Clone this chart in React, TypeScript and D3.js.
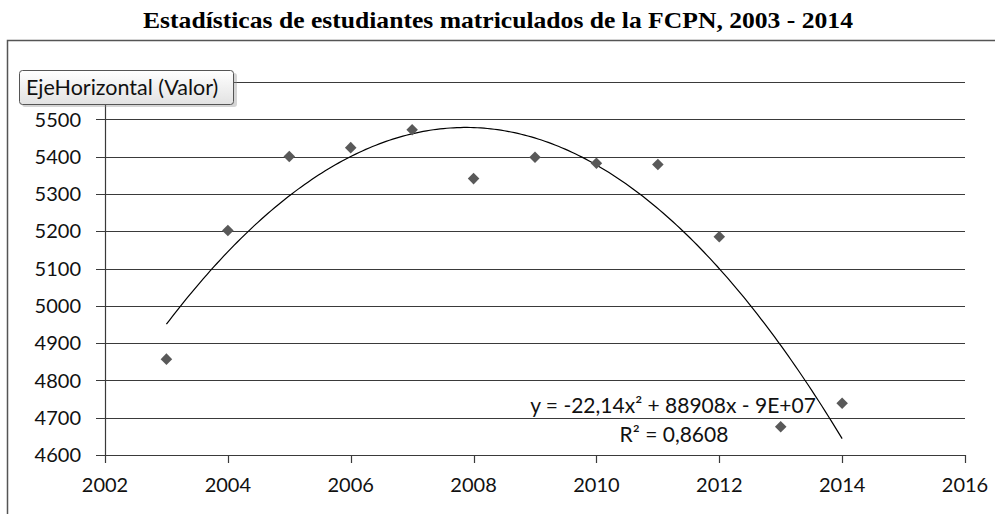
import React from "react";
import * as d3 from "d3";

const TITLE = "Estadísticas de estudiantes matriculados de la FCPN, 2003 - 2014";
const years = [2003, 2004, 2005, 2006, 2007, 2008, 2009, 2010, 2011, 2012, 2013, 2014];
const students = [4857, 5202, 5400, 5424, 5472, 5341, 5398, 5382, 5379, 5185, 4676, 4739];
const xTicks = [2002, 2004, 2006, 2008, 2010, 2012, 2014, 2016];
const yTicks = [4600, 4700, 4800, 4900, 5000, 5100, 5200, 5300, 5400, 5500, 5600];
const yTickLabels = ["4600", "4700", "4800", "4900", "5000", "5100", "5200", "5300", "5400", "5500", ""];
const equationText = "y = -22,14x² + 88908x - 9E+07";
const r2Text = "R² = 0,8608";
const tooltipText = "EjeHorizontal (Valor)";

// quadratic least-squares fit (as Excel's polynomial trendline)
function quadFit(xs: number[], ys: number[]) {
  const m = d3.mean(xs) as number;
  const u = xs.map((x) => x - m);
  const n = u.length;
  let s1 = 0, s2 = 0, s3 = 0, s4 = 0, t0 = 0, t1 = 0, t2 = 0;
  for (let i = 0; i < n; i++) {
    const a = u[i], y = ys[i];
    s1 += a; s2 += a * a; s3 += a * a * a; s4 += a * a * a * a;
    t0 += y; t1 += a * y; t2 += a * a * y;
  }
  const A = [[n, s1, s2, t0], [s1, s2, s3, t1], [s2, s3, s4, t2]];
  for (let i = 0; i < 3; i++) {
    for (let k = i + 1; k < 3; k++) {
      const f = A[k][i] / A[i][i];
      for (let j = i; j < 4; j++) A[k][j] -= f * A[i][j];
    }
  }
  const c = [0, 0, 0];
  for (let i = 2; i >= 0; i--) {
    let s = A[i][3];
    for (let j = i + 1; j < 3; j++) s -= A[i][j] * c[j];
    c[i] = s / A[i][i];
  }
  return (x: number) => c[0] + c[1] * (x - m) + c[2] * (x - m) * (x - m);
}

export default function App() {
  const W = 995, H = 514;
  const x = d3.scaleLinear().domain([2002, 2016]).range([105, 965]);
  const y = d3.scaleLinear().domain([4600, 5600]).range([455, 82]);
  const fit = quadFit(years, students);
  const curveXs = d3.range(0, 201).map((i) => 2003 + (11 * i) / 200);
  const line = d3.line<number>().x((d) => x(d)).y((d) => y(fit(d)));
  const diamond = d3.symbol().type(d3.symbolDiamond2).size(85)() as string;
  const sans = "Lato, 'Open Sans', sans-serif";
  const gridColor = "#3a3a3a";

  return (
    <svg width={W} height={H} style={{ position: "absolute", left: 0, top: 0, background: "#fff" }}>
      <defs>
        <linearGradient id="tipg" x1="0" y1="0" x2="0" y2="1">
          <stop offset="0" stopColor="#ffffff" />
          <stop offset="1" stopColor="#e2e2e2" />
        </linearGradient>
      </defs>
      <rect x={0} y={0} width={W} height={H} fill="#fff" />
      <text x={498} y={28} textAnchor="middle" textLength={710} lengthAdjust="spacingAndGlyphs"
        fontFamily="'Liberation Serif', 'Times New Roman', serif" fontWeight="bold" fontSize={23} fill="#000">
        {TITLE}
      </text>
      <rect x={7.5} y={40.5} width={W + 10} height={H} fill="none" stroke="#555" strokeWidth={1.5} />

      {yTicks.map((t, i) => (
        <g key={t}>
          <line x1={96} x2={965} y1={Math.round(y(t)) + 0.5} y2={Math.round(y(t)) + 0.5} stroke={gridColor} strokeWidth={1.2} />
          <text x={81} y={y(t)} dy="0.36em" textAnchor="end" fontFamily={sans} fontSize={20} fill="#111">{yTickLabels[i]}</text>
        </g>
      ))}
      <line x1={105.5} x2={105.5} y1={y(5600)} y2={y(4600)} stroke={gridColor} strokeWidth={1.2} />
      {xTicks.map((t) => (
        <g key={t}>
          <line x1={Math.round(x(t)) + 0.5} x2={Math.round(x(t)) + 0.5} y1={y(4600)} y2={y(4600) + 8} stroke={gridColor} strokeWidth={1.2} />
          <text x={x(t)} y={492} textAnchor="middle" fontFamily={sans} fontSize={20} fill="#111">{t}</text>
        </g>
      ))}

      <path d={line(curveXs) as string} fill="none" stroke="#000" strokeWidth={1.2} />

      {years.map((yr, i) => (
        <path key={yr} d={diamond} transform={`translate(${x(yr)},${y(students[i])})`} fill="#595959" />
      ))}

      <text x={673} y={413} textAnchor="middle" fontFamily={sans} fontSize={21} fill="#111">{equationText}</text>
      <text x={674} y={442} textAnchor="middle" fontFamily={sans} fontSize={21} fill="#111">{r2Text}</text>

      <rect x={22} y={73} width={215} height={34} rx={3} fill="#888" opacity={0.35} />
      <rect x={19.5} y={70.5} width={214} height={34} rx={3} fill="url(#tipg)" stroke="#555" strokeWidth={1} />
      <text x={26} y={95} fontFamily={sans} fontSize={21.5} fill="#111">{tooltipText}</text>
    </svg>
  );
}
